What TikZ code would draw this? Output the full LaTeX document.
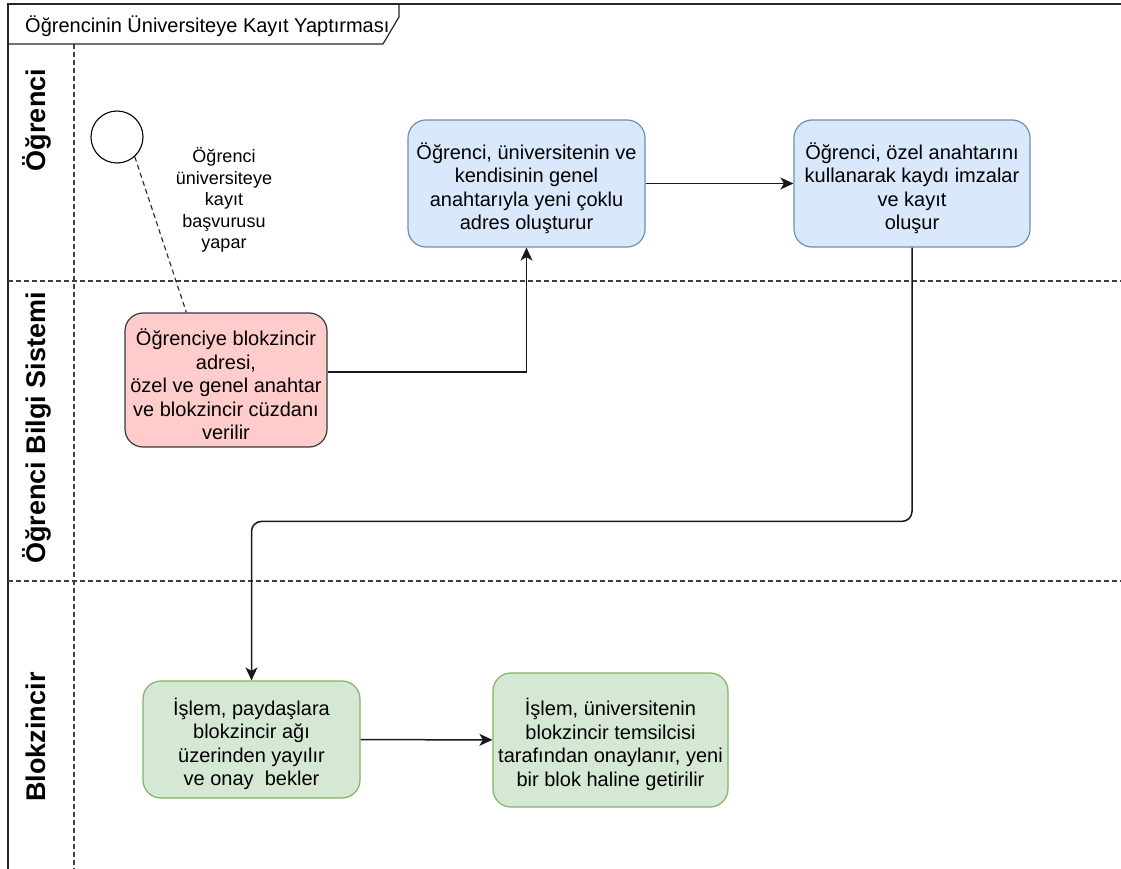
\documentclass[tikz,border=0pt]{standalone}
\usepackage{fontspec}
\setmainfont{Liberation Sans}
\usetikzlibrary{arrows.meta,calc}

\definecolor{pinkfill}{HTML}{FFCCCC}
\definecolor{pinkline}{HTML}{36393D}
\definecolor{bluefill}{HTML}{DAE8FC}
\definecolor{blueline}{HTML}{6C8EBF}
\definecolor{greenfill}{HTML}{D5E8D4}
\definecolor{greenline}{HTML}{82B366}

% extra room above the first line of a task label, so the text block sits a little lower
\newcommand\tasktopgap{\rule{0pt}{26pt}}

\tikzset{
  boxtext/.style={font=\fontsize{20}{23.5}\selectfont, align=center},
  procbox/.style={boxtext, rectangle, rounded corners=18pt, line width=1.2pt, inner sep=3pt},
  pinkbox/.style={procbox, fill=pinkfill, draw=pinkline},
  bluebox/.style={procbox, fill=bluefill, draw=blueline},
  greenbox/.style={procbox, fill=greenfill, draw=greenline},
  flow/.style={line width=1.5pt, black!90, -{Stealth[length=13pt,width=12pt,inset=3.5pt]}},
  assoc/.style={line width=1.1pt, black!85, dash pattern=on 5pt off 3.5pt},
  lanesep/.style={line width=1.3pt, black!75, dash pattern=on 5pt off 3pt},
  framedge/.style={line width=1.8pt, black!85},
  lanelabel/.style={font=\fontsize{27}{30}\selectfont\bfseries, rotate=90, anchor=base, inner sep=0pt},
}

\begin{document}
\begin{tikzpicture}[x=1pt,y=-1pt]
  \useasboundingbox[fill=white] (0,0) rectangle (1121,869);

  % pool frame and title tab
  \draw[framedge] (8,869) -- (8,4) -- (1121,4);
  \draw[line width=1.2pt, black!85] (8,44) -- (383,44) -- (399,17) -- (399,4);
  \node[anchor=base west, inner sep=0pt, font=\fontsize{20}{24}\selectfont] (title) at (25,33)
    {Öğrencinin Üniversiteye Kayıt Yaptırması};

  % lane separators
  \draw[lanesep] (74,44) -- (74,869);
  \draw[lanesep] (8,281) -- (1121,281);
  \draw[lanesep] (8,581) -- (1121,581);

  % lane titles
  \node[lanelabel] (lane1) at (45,120) {Öğrenci};
  \node[lanelabel] (lane2) at (45,428) {Öğrenci Bilgi Sistemi};
  \node[lanelabel] (lane3) at (45,737) {Blokzincir};

  % start event and its note
  \node[circle, draw, line width=1.1pt, minimum size=52pt, inner sep=0pt] (start) at (117,137) {};
  \node[font=\fontsize{18}{21.5}\selectfont, align=center, inner sep=0pt] (note) at (224,200)
    {Öğrenci\\üniversiteye\\kayıt\\başvurusu\\yapar};

  % tasks
  \node[pinkbox, minimum width=202pt, minimum height=134pt] (pink) at (226,380)
    {\tasktopgap Öğrenciye blokzincir\\adresi,\\özel ve genel anahtar\\ve blokzincir cüzdanı\\verilir};
  \node[bluebox, minimum width=237pt, minimum height=127pt] (b1) at (526.5,183.5)
    {\tasktopgap Öğrenci, üniversitenin ve\\kendisinin genel\\anahtarıyla yeni çoklu\\adres oluşturur};
  \node[bluebox, minimum width=236pt, minimum height=127pt] (b2) at (912,183.5)
    {\tasktopgap Öğrenci, özel anahtarını\\kullanarak kaydı imzalar\\ve kayıt\\oluşur};
  \node[greenbox, minimum width=217pt, minimum height=117pt] (g1) at (251.5,739.5)
    {\tasktopgap İşlem, paydaşlara\\blokzincir ağı\\üzerinden yayılır\\ve onay\ \ bekler};
  \node[greenbox, minimum width=235pt, minimum height=134pt] (g2) at (610.5,740)
    {\tasktopgap İşlem, üniversitenin\\blokzincir temsilcisi\\tarafından onaylanır, yeni\\bir blok haline getirilir};

  % connectors
  \draw[assoc] (start.-48) -- ($(pink.north west)+(62,0)$);
  \draw[flow] ($(pink.east)+(0,-8)$) -| (b1.south);
  \draw[flow] (b1) -- (b2);
  \draw[flow, rounded corners=10pt] (b2.south) |- ($(g1.north)+(0,-159)$) -- (g1.north);
  \draw[flow] (g1) -- (g2);
\end{tikzpicture}
\end{document}
